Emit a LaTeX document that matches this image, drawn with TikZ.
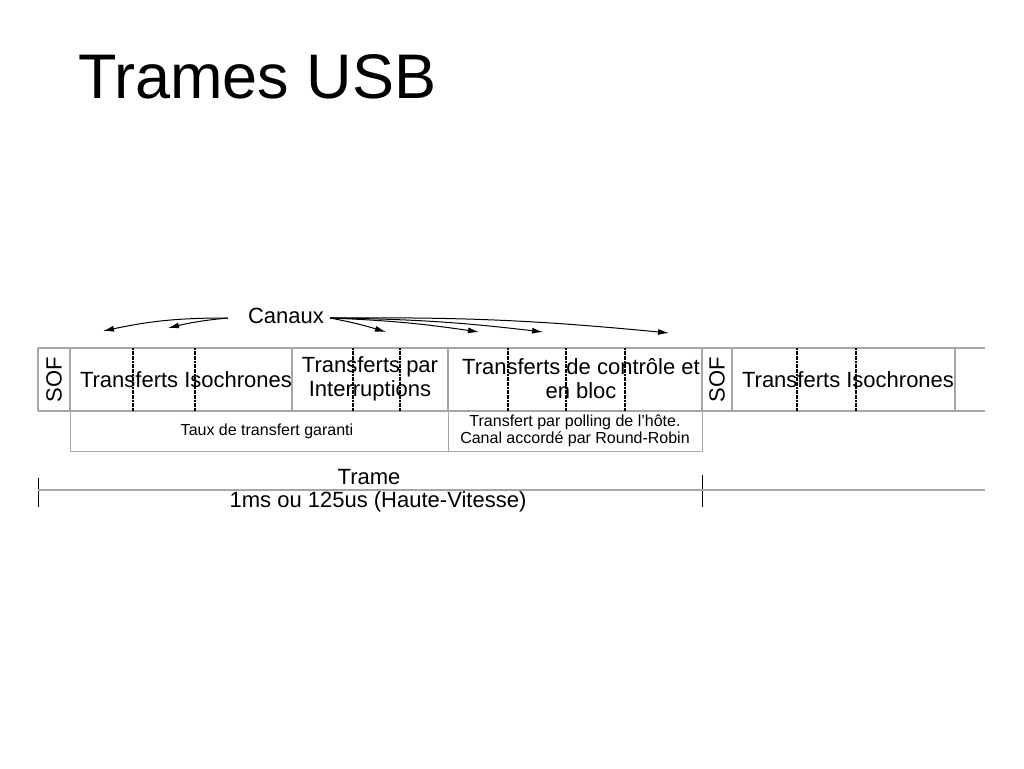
\documentclass[tikz,border=0pt]{standalone}
\usepackage{fontspec}
\setmainfont{Liberation Sans}
\usetikzlibrary{arrows.meta}
\begin{document}
\begin{tikzpicture}[x=1pt,y=-1pt,
  frame/.style={draw=gray!70,line width=1.2pt},
  divider/.style={draw=black,line width=2pt,dash pattern=on 2pt off 0.6pt},
  lbl/.style={font=\fontsize{22}{24}\selectfont,align=center,inner sep=0pt},
  small/.style={font=\fontsize{16}{17}\selectfont,align=center,inner sep=0pt},
  arr/.style={-{Latex[length=11pt,width=6pt]},line width=1pt}]
\useasboundingbox (0,0) rectangle (1024,768);
\node[anchor=west,font=\fontsize{63}{70}\selectfont,inner sep=0pt] (title) at (78,77) {Trames USB};
% main row
\draw[frame] (38,348) -- (985,348);
\draw[frame] (38,411) -- (985,411);
\foreach \x in {38,70,292,448,702,732,955} \draw[frame] (\x,348) -- (\x,411);
\foreach \x in {133,195,353,400,508,566,625,797,856} \draw[divider] (\x,348) -- (\x,411);
\node[lbl,rotate=90] (sof1) at (54,380) {SOF};
\node[lbl,rotate=90] (sof2) at (717,380) {SOF};
\node[lbl] (iso1) at (186,380) {Transferts Isochrones};
\node[lbl] (int) at (370,379) {Transferts par\\Interruptions};
\node[lbl] (ctl) at (581,379) {Transferts de contrôle et\\en bloc};
\node[lbl] (iso2) at (848,380) {Transferts Isochrones};
% lower row
\draw[frame,line width=0.8pt] (70,411) rectangle (448,451);
\draw[frame,line width=0.8pt] (448,411) rectangle (702,451);
\node[small] (taux) at (267,431) {Taux de transfert garanti};
\node[small] (poll) at (575,431) {Transfert par polling de l'hôte.\\Canal accordé par Round-Robin};
% trame
\draw[line width=1pt] (38,478) -- (38,507);
\draw[line width=1pt] (702,475) -- (702,507);
\draw[frame] (38,490) -- (985,490);
\node[lbl] (trame) at (369,477) {Trame};
\node[lbl] (dur) at (378,502) {1ms ou 125us (Haute-Vitesse)};
% canaux
\node[lbl] (can) at (286,316) {Canaux};
\coordinate (a1) at (103,331);
\coordinate (a2) at (168,328);
\coordinate (b1) at (386,332);
\coordinate (b2) at (479,332);
\coordinate (b3) at (543,332);
\coordinate (b4) at (669,333);
\draw[arr] (can.west) ++(-20,2) to[bend right=6] (a1);
\draw[arr] (can.west) ++(-20,2) to[bend right=4] (a2);
\foreach \t in {b1,b2,b3,b4} \draw[arr] (can.east) ++(6,2) to[bend left=3] (\t);
\end{tikzpicture}
\end{document}
